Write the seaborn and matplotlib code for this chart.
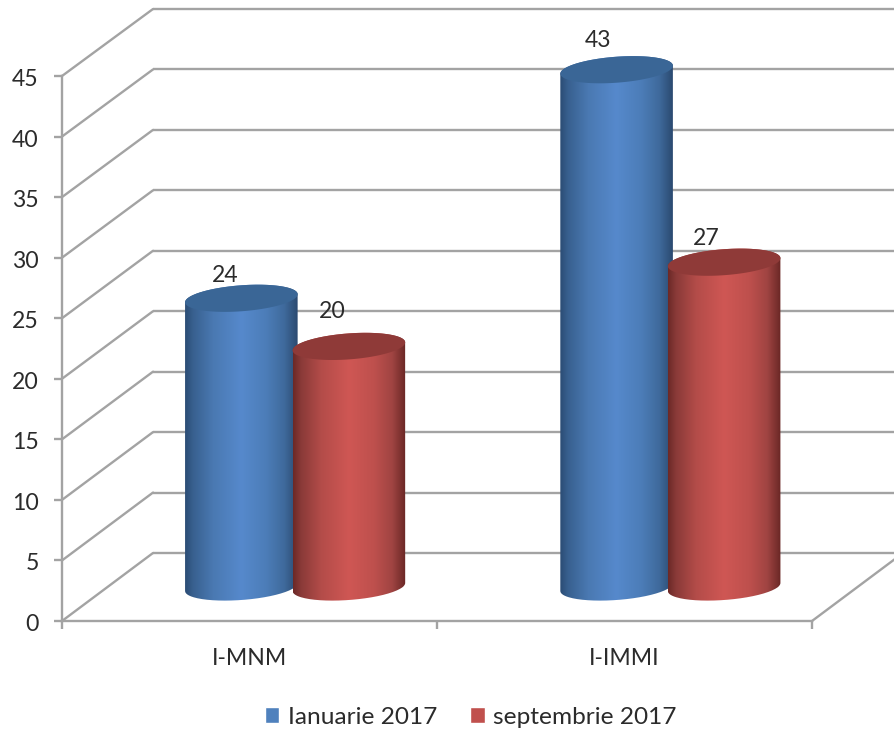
import numpy as np
import pandas as pd
import matplotlib
matplotlib.use("Agg")
import matplotlib.pyplot as plt
import matplotlib.transforms as mtransforms
import seaborn as sns
from matplotlib.colors import LinearSegmentedColormap
from matplotlib.patches import ConnectionPatch, PathPatch
from matplotlib.path import Path

categories = ["I-MNM", "I-IMMI"]
series_names = ["Ianuarie 2017", "septembrie 2017"]
ianuarie = [24, 43]
septembrie = [20, 27]
y_ticks = [0, 5, 10, 15, 20, 25, 30, 35, 40, 45]

W, H = 894, 733
sns.set_theme(style="white")
plt.rcParams["font.family"] = ["Lato", "DejaVu Sans"]
FS = 16.6
FS_LEG = 17.6
TXT = "#2b2b2b"
GRID = "#A3A3A3"
LW = 1.7

fig = plt.figure(figsize=(W / 100, H / 100), dpi=100, facecolor="white")


def axes_px(x0, x1, y_bottom, y_top):
    return fig.add_axes([x0 / W, 1 - y_bottom / H, (x1 - x0) / W, (y_bottom - y_top) / H])


# back wall
back = axes_px(153, 903, 553, 9)
back.set_zorder(0)
back.set_xlim(-0.5, 1.5)
back.set_ylim(0, 45)
back.axis("off")
back.hlines(y_ticks, -0.5, 1.5, color=GRID, lw=LW, clip_on=False)

# front axis
front = axes_px(62, 812, 621, 76)
front.set_zorder(1)
front.patch.set_visible(False)
front.set_xlim(-0.5, 1.5)
front.set_ylim(0, 45)
front.set_yticks(y_ticks)
front.set_xticks([0, 1])
front.set_xticklabels(categories)
front.set_xticks([-0.5, 0.5, 1.5], minor=True)
front.tick_params(axis="y", which="major", left=True, length=5.8, width=LW, color=GRID,
                  pad=11, labelsize=FS, labelcolor=TXT)
front.tick_params(axis="x", which="major", bottom=False, length=0, pad=19.5, labelsize=FS, labelcolor=TXT)
front.tick_params(axis="x", which="minor", bottom=True, length=5.8, width=LW, color=GRID)
sns.despine(ax=front, top=True, right=True)
for side in ("left", "bottom"):
    front.spines[side].set_color(GRID)
    front.spines[side].set_linewidth(LW)
down = mtransforms.ScaledTranslation(0, -1.5 / 100, fig.dpi_scale_trans)
for tl in front.get_yticklabels():
    tl.set_transform(tl.get_transform() + down)

# side-wall and floor diagonals
for v in y_ticks:
    fig.add_artist(ConnectionPatch((-0.5, v), (-0.5, v), coordsA=front.transData, coordsB=back.transData,
                                   color=GRID, lw=LW, zorder=0.5))
fig.add_artist(ConnectionPatch((1.5, 0), (1.5, 0), coordsA=front.transData, coordsB=back.transData,
                               color=GRID, lw=LW, zorder=0.5))

# cylinders (mid-depth plane); the axes reach below zero so the rounded bases stay inside
PX_PER_UNIT = 12.03
Y0, XL, XR = 587, 107.5, 858
Y_FLOOR = -3
mid = axes_px(XL, XR, Y0 - Y_FLOOR * PX_PER_UNIT, Y0 - 45 * PX_PER_UNIT)
mid.set_zorder(2)
mid.patch.set_visible(False)

df = pd.DataFrame({
    "category": categories * 2,
    "series": [series_names[0]] * 2 + [series_names[1]] * 2,
    "value": ianuarie + septembrie,
})
body_colors = ["#4F81BD", "#C0504D"]
sns.barplot(data=df, x="category", y="value", hue="series", order=categories, hue_order=series_names,
            palette=body_colors, saturation=1, width=0.573, gap=0, dodge=True, ax=mid)
handles, labels = mid.get_legend_handles_labels()
mid.get_legend().remove()
mid.axis("off")

cmaps = [
    LinearSegmentedColormap.from_list("b", [(0, "#2B4C74"), (0.07, "#38608F"), (0.25, "#4A79B2"), (0.5, "#5689CC"),
                                            (0.72, "#4C7DB8"), (0.88, "#3F6A9C"), (1, "#2B4A70")]),
    LinearSegmentedColormap.from_list("r", [(0, "#6B2927"), (0.07, "#8A3A38"), (0.25, "#B34C49"), (0.5, "#CF5754"),
                                            (0.72, "#BE504D"), (0.88, "#A04442"), (1, "#692725")]),
]
cap_colors = ["#3A6696", "#8F3A38"]
A_PX, B_PX, TILT_PX = 56.3, 13.0, 4.0
dx_per_px = 2.0 / (XR - XL)
dy_per_px = 1.0 / PX_PER_UNIT
t_lo = np.linspace(np.pi, 2 * np.pi, 80)
t_hi = np.linspace(0, np.pi, 80)
t_all = np.linspace(0, 2 * np.pi, 160)


def ell(cx, cy, t):
    return np.column_stack([
        cx + A_PX * dx_per_px * np.cos(t),
        cy + (B_PX * np.sin(t) + TILT_PX * np.cos(t)) * dy_per_px,
    ])


label_offsets_px = [[(-16, 23), (-19, 29)], [(-17, 35), (-18, 24)]]
for i, container in enumerate(mid.containers):
    for j, bar in enumerate(container):
        cx = bar.get_x() + bar.get_width() / 2
        h = bar.get_height()
        outline = np.vstack([ell(cx, 0, t_lo), ell(cx, h, t_hi)])
        clip = PathPatch(Path(np.vstack([outline, outline[:1]])), transform=mid.transData, fc="none", ec="none")
        mid.add_patch(clip)
        bar.set_clip_path(clip)
        bar.set_zorder(3 + j * 10 + i * 3)
        xa = cx - A_PX * dx_per_px
        xb = cx + A_PX * dx_per_px
        im = mid.imshow(np.linspace(0, 1, 256)[None, :], extent=(xa, xb, -2, h + 2), aspect="auto",
                        cmap=cmaps[i], origin="lower", zorder=4 + j * 10 + i * 3, interpolation="bilinear")
        im.set_clip_path(clip)
        cap = ell(cx, h, t_all)
        mid.add_patch(PathPatch(Path(np.vstack([cap, cap[:1]])), fc=cap_colors[i], ec="none",
                                zorder=5 + j * 10 + i * 3, clip_on=False))
        ox, oy = label_offsets_px[i][j]
        mid.annotate(f"{h:.0f}", (cx, h), xytext=(ox * 0.72, oy * 0.72), textcoords="offset points",
                     ha="center", va="center", fontsize=FS, color=TXT, zorder=40, annotation_clip=False)
mid.set_xlim(-0.5, 1.5)
mid.set_ylim(Y_FLOOR, 45)

leg = fig.legend(handles, labels, loc="center", bbox_to_anchor=(470.5 / W, 1 - 717 / H), ncol=2, frameon=False,
                 fontsize=FS_LEG, handlelength=0.6, handleheight=0.6, handletextpad=0.33, columnspacing=1.35,
                 labelcolor=TXT, borderpad=0)

fig.savefig("out.png", dpi=100, facecolor="white")
